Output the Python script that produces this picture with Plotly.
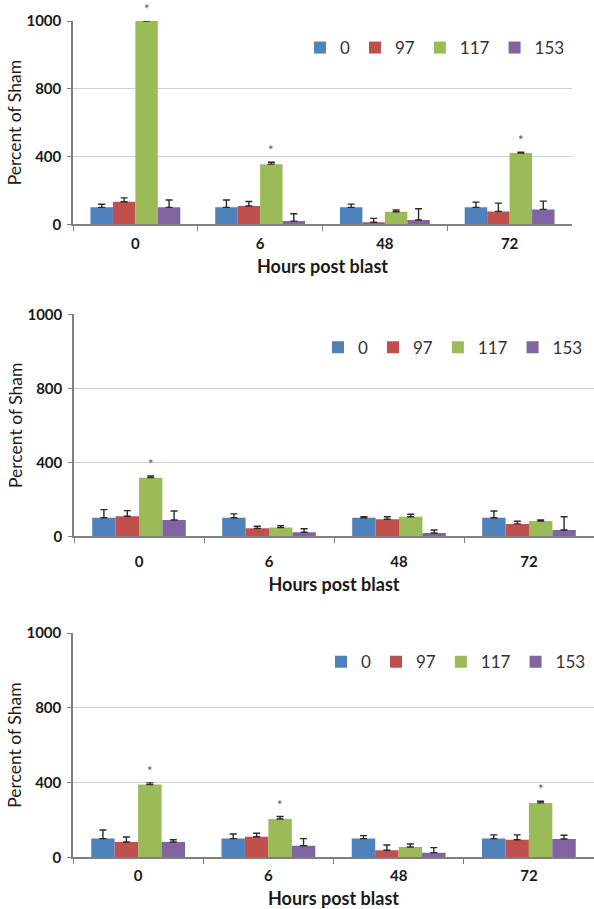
import plotly.graph_objects as go

# ---------------- data ----------------
hours = ["0", "6", "48", "72"]
series_names = ["0", "97", "117", "153"]
series_colors = ["#4F81BD", "#C0504D", "#9BBB59", "#8064A2"]

# y-axis tick labels as printed (top gridline is labelled "1000")
y_tick_vals = [0, 400, 800, 1200]
y_tick_text = ["0", "400", "800", "1000"]
y_max = 1200

# Panel A (top)
a_0 = [100, 100, 100, 100]
a_97 = [133, 108, 12, 76]
a_117 = [1200, 355, 74, 421]
a_153 = [100, 19, 25, 88]
a_0_err = [18, 43, 19, 31]
a_97_err = [23, 27, 23, 49]
a_117_err = [8, 11, 10, 4]
a_153_err = [43, 43, 67, 49]
a_sig_117 = [True, True, False, True]

# Panel B (middle)
b_0 = [100, 100, 100, 100]
b_97 = [108, 43, 92, 67]
b_117 = [317, 47, 106, 83]
b_153 = [88, 22, 18, 34]
b_0_err = [44, 21, 6, 37]
b_97_err = [31, 11, 14, 14]
b_117_err = [9, 10, 13, 5]
b_153_err = [49, 19, 16, 72]
b_sig_117 = [True, False, False, False]

# Panel C (bottom)
c_0 = [100, 100, 100, 100]
c_97 = [82, 110, 38, 94]
c_117 = [389, 205, 55, 291]
c_153 = [82, 62, 25, 98]
c_0_err = [46, 25, 16, 20]
c_97_err = [27, 19, 28, 26]
c_117_err = [9, 13, 16, 9]
c_153_err = [12, 38, 27, 20]
c_sig_117 = [True, True, False, True]

x_title = "Hours post blast"
y_title = "Percent of Sham"

# ---------------- figure ----------------
W, H = 594, 909
FONT = "Lato, 'Open Sans', sans-serif"
BARGAP = 0.28
AXIS_COLOR = "#7F7F7F"

panels = [
    dict(vals=[a_0, a_97, a_117, a_153], errs=[a_0_err, a_97_err, a_117_err, a_153_err],
         sig=a_sig_117, xdom=[73 / W, 572 / W], ydom=[1 - 224.3 / H, 1 - 21 / H],
         leg=dict(x=570 / W, y=1 - 48 / H), lab_off=5),
    dict(vals=[b_0, b_97, b_117, b_153], errs=[b_0_err, b_97_err, b_117_err, b_153_err],
         sig=b_sig_117, xdom=[74 / W, 1.0], ydom=[1 - 536.3 / H, 1 - 314.3 / H],
         leg=dict(x=588 / W, y=1 - 347.7 / H), lab_off=11),
    dict(vals=[c_0, c_97, c_117, c_153], errs=[c_0_err, c_97_err, c_117_err, c_153_err],
         sig=c_sig_117, xdom=[73 / W, 1.0], ydom=[1 - 857.3 / H, 1 - 633 / H],
         leg=dict(x=591 / W, y=1 - 662.3 / H), lab_off=4),
]

fig = go.Figure()
annotations = []
layout = dict(
    width=W, height=H,
    margin=dict(l=0, r=0, t=0, b=0),
    paper_bgcolor="white", plot_bgcolor="white",
    barmode="group", bargap=BARGAP, bargroupgap=0,
    font=dict(family=FONT, color="#1a1a1a"),
)

n_series = len(series_names)
green_idx = 2
green_offset = (green_idx - (n_series - 1) / 2) * (1 - BARGAP) / n_series

for p_i, p in enumerate(panels):
    sfx = "" if p_i == 0 else str(p_i + 1)
    xa, ya = "x" + sfx, "y" + sfx
    leg = "legend" + sfx
    for s_i in range(n_series):
        fig.add_trace(go.Bar(
            x=hours, y=p["vals"][s_i], name=series_names[s_i],
            marker=dict(color=series_colors[s_i], line=dict(width=0)),
            error_y=dict(type="data", symmetric=False, array=p["errs"][s_i],
                         arrayminus=[0] * len(hours), color="#2a2a2a",
                         thickness=1.4, width=3.5),
            xaxis=xa, yaxis=ya, legend=leg, showlegend=True,
        ))
    # significance asterisks above the 117 bars
    for h_i, flag in enumerate(p["sig"]):
        if flag:
            top = p["vals"][green_idx][h_i] + p["errs"][green_idx][h_i]
            annotations.append(dict(
                x=h_i + green_offset, y=min(top, y_max), xref=xa, yref=ya,
                text="*", showarrow=False, yanchor="bottom", yshift=2,
                font=dict(family=FONT, size=13, color="#555555"),
            ))
    layout["xaxis" + sfx] = dict(
        domain=p["xdom"], anchor=ya, type="category",
        showline=True, linecolor=AXIS_COLOR, linewidth=1.5,
        ticks="outside", tickson="boundaries", ticklen=5, tickcolor=AXIS_COLOR,
        tickfont=dict(family=FONT, size=15, color="#1a1a1a", weight="bold"),
        ticklabelstandoff=p["lab_off"],
        showgrid=False, zeroline=False,
        title=dict(text=x_title, standoff=9,
                   font=dict(family=FONT, size=18, color="#1a1a1a", weight="bold")),
        automargin=False, fixedrange=True,
    )
    layout["yaxis" + sfx] = dict(
        domain=p["ydom"], anchor=xa, range=[0, y_max],
        tickvals=y_tick_vals, ticktext=y_tick_text,
        showline=True, linecolor=AXIS_COLOR, linewidth=1.5,
        ticks="outside", ticklen=4, tickcolor=AXIS_COLOR,
        tickfont=dict(family=FONT, size=15, color="#1a1a1a", weight="bold"),
        ticklabelstandoff=3,
        showgrid=True, gridcolor="#D0D0D0", gridwidth=1, zeroline=False,
        title=dict(text=y_title, standoff=0,
                   font=dict(family=FONT, size=17.5, color="#1a1a1a")),
        automargin=False, fixedrange=True,
    )
    layout[leg] = dict(
        orientation="h", x=p["leg"]["x"], y=p["leg"]["y"],
        xanchor="right", yanchor="middle",
        bgcolor="rgba(0,0,0,0)", borderwidth=0,
        font=dict(family=FONT, size=17, color="#333333"),
        traceorder="normal",
    )

layout["annotations"] = annotations
fig.update_layout(**layout)
fig.write_html("out.html")
